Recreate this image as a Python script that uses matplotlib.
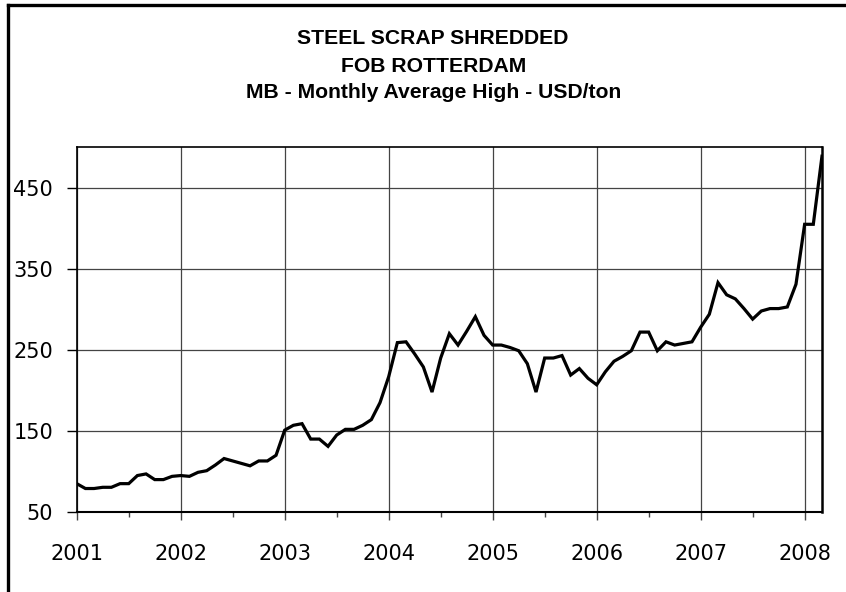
import matplotlib
matplotlib.use("Agg")
import matplotlib.pyplot as plt
from matplotlib.lines import Line2D
from matplotlib.ticker import MultipleLocator

# Monthly average high, USD/ton, Jan 2001 .. Mar 2008
prices_2001 = [85, 79, 79, 80.5, 80.5, 85, 85, 95, 97, 90, 90, 94]
prices_2002 = [95, 94, 99, 101, 108, 116, 113, 110, 107, 113, 113, 120]
prices_2003 = [151, 157, 159, 140, 140, 131, 145, 152, 152, 157, 164, 185]
prices_2004 = [217, 259, 260, 245, 229, 198, 240, 270, 256, 273, 291, 268]
prices_2005 = [256, 256, 253, 249, 233, 198, 240, 240, 243, 219, 227, 215]
prices_2006 = [207, 223, 236, 242, 249, 272, 272, 249, 260, 256, 258, 260]
prices_2007 = [278, 294, 333, 318, 313, 301, 288, 298, 301, 301, 303, 331]
prices_2008 = [405, 405, 489]

years = ["2001", "2002", "2003", "2004", "2005", "2006", "2007", "2008"]
y_ticks = [50, 150, 250, 350, 450]

prices = (prices_2001 + prices_2002 + prices_2003 + prices_2004
          + prices_2005 + prices_2006 + prices_2007 + prices_2008)
months = list(range(len(prices)))

fig = plt.figure(figsize=(8.46, 5.92), dpi=100)
ax = fig.add_axes([0.0907, 0.1351, 0.9716 - 0.0907, 0.7512 - 0.1351])

ax.plot(months, prices, color="black", linewidth=2.3, solid_joinstyle="miter")

ax.set_xlim(0, len(prices) - 1)
ax.set_ylim(50, 500)

ax.set_xticks([12 * i for i in range(len(years))])
ax.set_xticklabels(years)
ax.xaxis.set_minor_locator(MultipleLocator(6))
ax.set_yticks(y_ticks)
ax.set_yticklabels([str(v) for v in y_ticks])

ax.grid(True, which="major", color="#444444", linewidth=0.9)
ax.set_axisbelow(True)

ax.tick_params(axis="x", which="major", direction="out", length=6, width=1,
               pad=17, labelsize=15, color="#444444")
ax.tick_params(axis="x", which="minor", direction="out", length=3.5, width=1,
               color="#444444")
ax.tick_params(axis="y", which="major", direction="out", length=7, width=1,
               pad=10, labelsize=15)

for side in ["left", "bottom", "top", "right"]:
    ax.spines[side].set_color("black")
ax.spines["left"].set_linewidth(1.2)
ax.spines["bottom"].set_linewidth(1.5)
ax.spines["top"].set_linewidth(1.2)
ax.spines["right"].set_linewidth(1.8)

# title block
title_font = dict(family="Liberation Sans", fontsize=15.2, fontweight="bold",
                  ha="center", va="center")
fig.text(0.512, 1 - 39 / 592, "STEEL SCRAP SHREDDED", **title_font)
fig.text(0.512, 1 - 66 / 592, "FOB ROTTERDAM", **title_font)
fig.text(0.512, 1 - 93 / 592, "MB - Monthly Average High - USD/ton", **title_font)

# outer frame (only top and left edges visible)
x0 = 8 / 846
y0 = 1 - 5 / 592
fig.add_artist(Line2D([x0, x0], [0, y0], transform=fig.transFigure,
                      color="black", linewidth=2.4))
fig.add_artist(Line2D([x0, 1], [y0, y0], transform=fig.transFigure,
                      color="black", linewidth=2.4))

fig.savefig("out.png", dpi=100)
